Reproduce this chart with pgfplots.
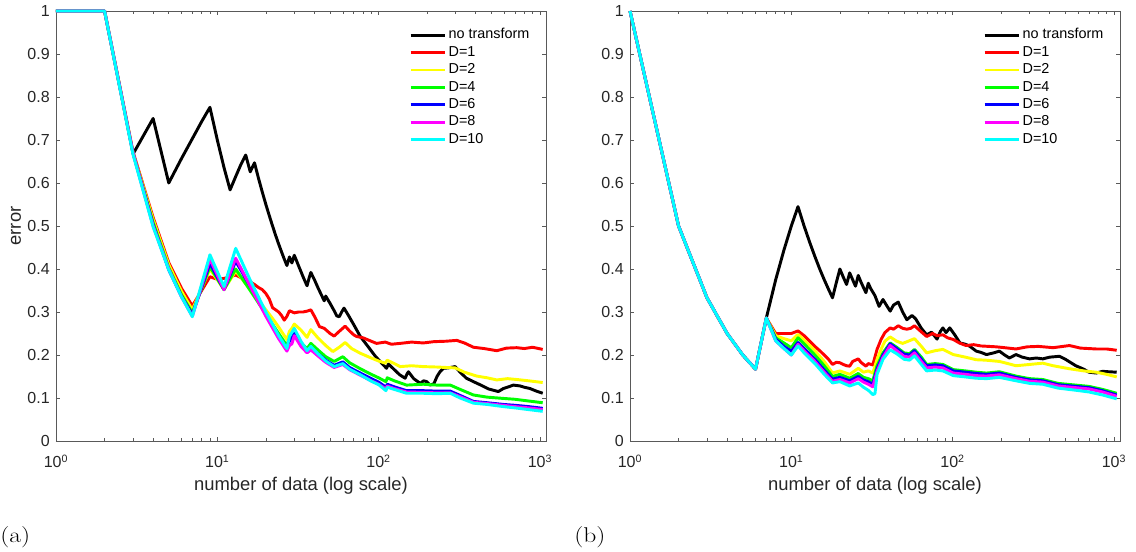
\documentclass[border=0pt]{standalone}
\usepackage{fontspec}
\usepackage{graphicx}
\usepackage{pgfplots}
\pgfplotsset{compat=1.18}
\newfontfamily\arial{Liberation Sans}
\definecolor{axgray}{gray}{0.35}
\definecolor{txtgray}{gray}{0.15}
\definecolor{mred}{RGB}{255,0,0}
\definecolor{myellow}{RGB}{255,255,0}
\definecolor{mgreen}{RGB}{0,255,0}
\definecolor{mblue}{RGB}{0,0,255}
\definecolor{mmagenta}{RGB}{255,0,255}
\definecolor{mcyan}{RGB}{0,255,255}

\pgfplotsset{
    scale only axis, width=367.5pt, height=322.5pt,
    xmin=1, xmax=1090, ymin=0, ymax=1,
    xtick={1,10,100,1000},
    xticklabels={10\textsuperscript{0},10\textsuperscript{1},10\textsuperscript{2},10\textsuperscript{3}},
    ytick={0,0.1,0.2,0.3,0.4,0.5,0.6,0.7,0.8,0.9,1},
    yticklabels={0,0.1,0.2,0.3,0.4,0.5,0.6,0.7,0.8,0.9,1},
    tick align=inside,
    major tick length=3.3pt, minor tick length=2pt,
    axis line style={axgray, line width=0.6pt},
    every tick/.style={axgray, line width=0.5pt},
    tick label style={font=\arial\fontsize{12}{14}\selectfont, text=txtgray},
    xticklabel style={anchor=base, yshift=-20.25pt},
    yticklabel style={anchor=east, inner sep=0pt, xshift=-4.5pt},
    label style={font=\arial\fontsize{13.8}{16}\selectfont, text=txtgray},
    xlabel style={at={(axis description cs:0.5,-0.114)}, anchor=base},
    ylabel style={at={(axis description cs:-0.0816,0.5)}, anchor=center},
    clip=false,
    legend style={at={(axis description cs:0.72,0.965)}, anchor=north west,
      draw=none, fill=none, inner sep=0pt,
      font=\arial\fontsize{10.8}{13}\selectfont,
      nodes={inner ysep=1.15pt, inner xsep=1.5pt, text height=8.1pt, text depth=2.7pt}},
    legend cell align=left,
    legend image code/.code={\draw[#1] (0pt,0pt) -- (26pt,0pt);},
    every axis plot/.append style={line width=2.2pt, line join=round},
}

\begin{document}
\begin{tikzpicture}
\useasboundingbox (-42pt,-83.25pt) rectangle (810pt,330.75pt);

% ---------------- (a) ----------------
\begin{axis}[xmode=log, at={(0pt,0pt)}, anchor=south west, xlabel={number of data (log scale)}, ylabel={error}]
\addplot[black] coordinates {
(3,0.667)(4,0.750)(5,0.600)(6,0.657)(7,0.703)(8,0.743)(9,0.776)(10,0.700)(11,0.636)(12,0.584)
(13,0.615)(14,0.643)(15,0.665)(16,0.626)(17,0.647)(18,0.611)(19,0.579)(20,0.550)(21,0.524)
(22,0.500)(23,0.478)(24,0.458)(25,0.440)(26,0.423)(27,0.408)(28,0.428)(29,0.414)(30,0.432)
(31,0.419)(32,0.406)(33,0.394)(34,0.382)(35,0.371)(36,0.361)(37,0.378)(38,0.392)(40,0.375)
(42,0.357)(44,0.341)(46,0.326)(47,0.337)(50,0.320)(53,0.303)(55,0.291)(57,0.289)(59,0.300)
(61,0.309)(65,0.292)(70,0.271)(77,0.243)(85,0.222)(95,0.198)(105,0.180)(112,0.169)(115,0.179)
(125,0.166)(135,0.154)(146,0.146)(150,0.156)(153,0.161)(165,0.145)(181,0.134)(190,0.140)
(199,0.138)(208,0.130)(220,0.133)(230,0.150)(240,0.161)(252,0.169)(270,0.170)(298,0.173)
(320,0.160)(350,0.146)(387,0.138)(430,0.130)(480,0.121)(552,0.115)(593,0.122)(640,0.126)
(684,0.130)(753,0.128)(800,0.125)(868,0.122)(950,0.116)(1040,0.111)
};
\addlegendentry{no transform}
\addplot[mred] coordinates {
(1,1)(2,1)(3,0.673)(4,0.52)(5,0.415)(6,0.355)(7,0.314)(8,0.35)(9,0.382)(10,0.376)(11,0.378)
(12,0.382)(13,0.386)(14,0.380)(15,0.375)(16,0.370)(17,0.364)(18,0.357)(19,0.352)(20,0.343)
(21,0.330)(22,0.310)(23,0.305)(24,0.300)(25,0.292)(26,0.281)(27,0.290)(28,0.303)(30,0.298)
(32,0.300)(34,0.300)(36,0.302)(38,0.305)(40,0.290)(43,0.266)(46,0.262)(50,0.250)(53,0.244)
(57,0.255)(62,0.267)(66,0.256)(70,0.247)(73,0.243)(80,0.240)(90,0.232)(97,0.227)(110,0.230)
(120,0.225)(136,0.227)(160,0.230)(189,0.228)(220,0.231)(260,0.232)(305,0.234)(340,0.228)
(387,0.218)(450,0.215)(540,0.210)(620,0.216)(718,0.217)(800,0.215)(900,0.218)(1040,0.213)
};
\addlegendentry{D=1}
\addplot[myellow] coordinates {
(1,1)(2,1)(3,0.671)(4,0.515)(5,0.41)(6,0.348)(7,0.305)(9,0.40)(11,0.352)(13,0.395)(14,0.38)
(16,0.352)(18,0.327)(20,0.305)(22,0.285)(24,0.265)(26,0.245)(27,0.236)(28,0.255)(29,0.262)
(30,0.272)(33,0.258)(36,0.241)(38,0.259)(42,0.240)(47,0.222)(52,0.208)(57,0.218)(62,0.229)
(68,0.215)(77,0.204)(90,0.193)(100,0.186)(110,0.181)(113,0.188)(125,0.180)(136,0.173)
(160,0.175)(189,0.173)(230,0.172)(298,0.170)(340,0.160)(405,0.151)(470,0.147)(540,0.142)
(630,0.145)(718,0.143)(850,0.140)(1040,0.136)
};
\addlegendentry{D=2}
\addplot[mgreen] coordinates {
(1,1)(2,1)(3,0.67)(4,0.508)(5,0.403)(6,0.34)(7,0.298)(9,0.405)(11,0.352)(13,0.40)(16,0.35)
(20,0.295)(24,0.25)(27,0.222)(28,0.238)(30,0.245)(33,0.228)(36,0.215)(38,0.227)(42,0.212)
(47,0.196)(53,0.185)(60,0.196)(66,0.182)(77,0.168)(90,0.155)(100,0.147)(111,0.138)(113,0.147)
(125,0.140)(149,0.130)(189,0.132)(230,0.130)(278,0.130)(320,0.120)(387,0.107)(470,0.102)
(593,0.099)(700,0.097)(850,0.093)(1040,0.089)
};
\addlegendentry{D=4}
\addplot[mblue] coordinates {
(1,1)(2,1)(3,0.67)(4,0.503)(5,0.398)(6,0.336)(7,0.294)(9,0.413)(11,0.352)(13,0.418)(16,0.36)
(20,0.295)(24,0.243)(27,0.215)(28,0.232)(30,0.25)(33,0.225)(36,0.21)(38,0.218)(42,0.203)
(47,0.188)(53,0.176)(60,0.184)(66,0.171)(77,0.158)(90,0.145)(100,0.137)(111,0.125)(113,0.132)
(125,0.126)(149,0.117)(189,0.117)(230,0.116)(278,0.116)(320,0.106)(387,0.092)(470,0.089)
(593,0.085)(700,0.083)(850,0.080)(1040,0.076)
};
\addlegendentry{D=6}
\addplot[mmagenta] coordinates {
(1,1)(2,1)(3,0.67)(4,0.5)(5,0.40)(6,0.335)(7,0.29)(9,0.423)(11,0.352)(13,0.425)(16,0.36)
(20,0.29)(24,0.238)(27,0.209)(28,0.222)(29,0.226)(30,0.245)(33,0.22)(36,0.205)(38,0.212)
(42,0.198)(47,0.183)(53,0.171)(60,0.178)(66,0.166)(77,0.153)(90,0.140)(100,0.132)(111,0.121)
(113,0.128)(125,0.122)(149,0.114)(189,0.113)(230,0.112)(278,0.112)(320,0.103)(387,0.090)
(470,0.087)(593,0.083)(700,0.080)(850,0.077)(1040,0.073)
};
\addlegendentry{D=8}
\addplot[mcyan] coordinates {
(1,1)(2,1)(3,0.667)(4,0.498)(5,0.398)(6,0.335)(7,0.289)(9,0.433)(11,0.359)(13,0.448)(16,0.374)
(20,0.30)(24,0.245)(27,0.215)(28,0.243)(30,0.262)(33,0.232)(36,0.21)(38,0.22)(42,0.203)
(47,0.186)(53,0.173)(60,0.18)(66,0.167)(77,0.154)(90,0.139)(100,0.131)(111,0.117)(113,0.125)
(125,0.12)(149,0.111)(189,0.111)(230,0.110)(278,0.111)(320,0.100)(387,0.088)(470,0.085)
(593,0.080)(700,0.077)(850,0.073)(1040,0.069)
};
\addlegendentry{D=10}
\end{axis}

% ---------------- (b) ----------------
\begin{axis}[xmode=log, at={(430.5pt,0pt)}, anchor=south west, xlabel={number of data (log scale)}]
\addplot[black] coordinates {
(7,0.286)(8,0.375)(9,0.444)(10,0.500)(11,0.545)(12,0.500)(13,0.462)(14,0.429)(15,0.400)
(16,0.375)(17,0.353)(18,0.333)(19,0.368)(20,0.400)(21,0.381)(22,0.364)(23,0.391)(24,0.375)
(25,0.360)(26,0.385)(27,0.370)(28,0.357)(29,0.345)(30,0.367)(31,0.355)(33,0.338)(35,0.313)
(37,0.329)(39,0.315)(41,0.302)(43,0.316)(46,0.323)(49,0.300)(52,0.282)(56,0.292)(59,0.284)
(64,0.262)(69,0.247)(74,0.253)(80,0.237)(84,0.255)(87,0.263)(91,0.252)(96,0.263)(103,0.247)
(111,0.228)(120,0.225)(128,0.220)(140,0.209)(150,0.206)(162,0.201)(180,0.205)(195,0.209)
(210,0.200)(225,0.193)(247,0.201)(270,0.195)(300,0.191)(330,0.193)(362,0.191)(400,0.195)
(459,0.197)(500,0.190)(580,0.175)(650,0.167)(700,0.160)(777,0.158)(850,0.162)(930,0.161)
(1040,0.160)
};
\addlegendentry{no transform}
\addplot[mred] coordinates {
(1,1)(2,0.5)(3,0.333)(4,0.25)(5,0.2)(6,0.167)(7,0.286)(8,0.25)(9,0.25)(10,0.25)(11,0.256)
(12,0.245)(13,0.232)(14,0.22)(15,0.21)(16,0.2)(17,0.19)(18,0.178)(19,0.183)(20,0.182)
(21,0.178)(22,0.175)(23,0.174)(24,0.185)(26,0.191)(27,0.183)(29,0.174)(30,0.18)(32,0.177)
(34,0.213)(36,0.236)(38,0.252)(41,0.263)(43,0.26)(46,0.268)(49,0.262)(52,0.26)(55,0.262)
(58,0.268)(63,0.256)(69,0.243)(75,0.25)(80,0.245)(87,0.247)(93,0.24)(101,0.236)(110,0.228)
(121,0.222)(135,0.224)(150,0.221)(186,0.219)(210,0.217)(247,0.214)(290,0.219)(340,0.22)
(420,0.217)(530,0.222)(620,0.216)(777,0.214)(900,0.214)(1040,0.211)
};
\addlegendentry{D=1}
\addplot[myellow] coordinates {
(1,1)(2,0.5)(3,0.333)(4,0.25)(5,0.2)(6,0.167)(7,0.286)(8,0.245)(9,0.238)(10,0.233)(11,0.248)
(12,0.235)(14,0.21)(16,0.185)(18,0.158)(20,0.163)(23,0.155)(26,0.169)(28,0.16)(30,0.163)
(32,0.158)(34,0.19)(36,0.213)(38,0.232)(41,0.242)(45,0.232)(49,0.227)(53,0.232)(58,0.238)
(64,0.22)(69,0.205)(78,0.21)(87,0.213)(101,0.201)(120,0.195)(140,0.189)(160,0.188)(195,0.185)
(220,0.18)(247,0.175)(300,0.178)(362,0.181)(420,0.175)(530,0.168)(650,0.163)(777,0.160)
(900,0.155)(1040,0.149)
};
\addlegendentry{D=2}
\addplot[mgreen] coordinates {
(1,1)(2,0.5)(3,0.333)(4,0.25)(5,0.2)(6,0.167)(7,0.286)(8,0.24)(9,0.228)(10,0.217)(11,0.24)
(12,0.226)(14,0.2)(16,0.175)(18,0.15)(20,0.155)(23,0.146)(26,0.157)(28,0.148)(30,0.145)
(32,0.14)(34,0.175)(37,0.205)(41,0.228)(45,0.218)(50,0.205)(54,0.203)(58,0.213)(64,0.195)
(69,0.178)(78,0.18)(87,0.178)(101,0.166)(120,0.163)(140,0.16)(162,0.158)(195,0.161)(247,0.151)
(300,0.145)(362,0.143)(450,0.134)(580,0.13)(700,0.127)(850,0.12)(1040,0.111)
};
\addlegendentry{D=4}
\addplot[mblue] coordinates {
(1,1)(2,0.5)(3,0.333)(4,0.25)(5,0.2)(6,0.167)(7,0.286)(8,0.237)(9,0.22)(10,0.209)(11,0.229)
(12,0.215)(14,0.19)(16,0.165)(18,0.144)(20,0.148)(23,0.14)(26,0.15)(28,0.142)(30,0.138)
(32,0.132)(34,0.168)(37,0.2)(41,0.226)(45,0.215)(50,0.202)(54,0.2)(58,0.21)(64,0.19)
(69,0.175)(78,0.177)(87,0.175)(101,0.163)(120,0.16)(140,0.157)(162,0.155)(195,0.158)(247,0.148)
(300,0.142)(362,0.14)(450,0.131)(580,0.127)(700,0.124)(850,0.117)(1040,0.107)
};
\addlegendentry{D=6}
\addplot[mmagenta] coordinates {
(1,1)(2,0.5)(3,0.333)(4,0.25)(5,0.2)(6,0.167)(7,0.286)(8,0.233)(9,0.215)(10,0.2)(11,0.225)
(12,0.21)(14,0.185)(16,0.16)(18,0.139)(20,0.143)(23,0.135)(26,0.145)(28,0.137)(30,0.132)
(32,0.126)(34,0.162)(37,0.195)(41,0.222)(45,0.21)(50,0.197)(54,0.195)(58,0.205)(64,0.185)
(69,0.17)(78,0.172)(87,0.17)(101,0.158)(120,0.155)(140,0.152)(162,0.151)(195,0.154)(247,0.145)
(300,0.139)(362,0.137)(450,0.128)(580,0.124)(700,0.121)(850,0.114)(1040,0.104)
};
\addlegendentry{D=8}
\addplot[mcyan] coordinates {
(1,1)(2,0.5)(3,0.333)(4,0.25)(5,0.2)(6,0.167)(7,0.286)(8,0.233)(9,0.215)(10,0.2)(11,0.221)
(12,0.205)(14,0.18)(16,0.155)(18,0.135)(20,0.138)(23,0.128)(26,0.135)(28,0.125)(30,0.118)
(32,0.108)(33,0.11)(34,0.155)(37,0.19)(41,0.212)(45,0.203)(50,0.19)(54,0.188)(58,0.198)
(64,0.178)(69,0.163)(78,0.165)(87,0.163)(101,0.152)(120,0.149)(140,0.146)(162,0.145)
(195,0.148)(247,0.14)(300,0.134)(362,0.132)(450,0.123)(580,0.118)(700,0.114)(850,0.107)
(1040,0.098)
};
\addlegendentry{D=10}
\end{axis}

\node[anchor=west, inner sep=0pt, font=\fontsize{16}{18}\selectfont] at (-42pt,-72pt) {\scalebox{1.2}[1]{(a)}};
\node[anchor=west, inner sep=0pt, font=\fontsize{16}{18}\selectfont] at (388.5pt,-72pt) {\scalebox{1.2}[1]{(b)}};
\end{tikzpicture}
\end{document}
